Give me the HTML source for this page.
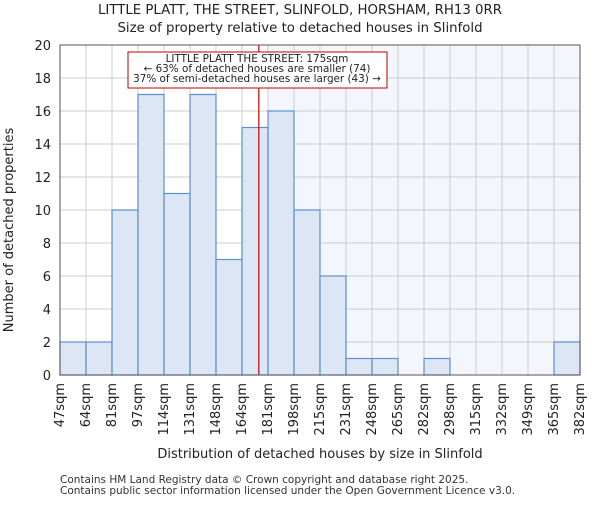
<!DOCTYPE html>
<html><head><meta charset="utf-8"><style>body{margin:0;background:#fff}svg{font-family:"DejaVu Sans","Liberation Sans",sans-serif}</style></head>
<body>
<svg id="c" width="600" height="500"></svg>
<script>
const binLabels=["47sqm","64sqm","81sqm","97sqm","114sqm","131sqm","148sqm","164sqm","181sqm","198sqm","215sqm","231sqm","248sqm","265sqm","282sqm","298sqm","315sqm","332sqm","349sqm","365sqm","382sqm"];
const counts=[2,2,10,17,11,17,7,15,16,10,6,1,1,0,1,0,0,0,0,2];
const yTicks=[0,2,4,6,8,10,12,14,16,18,20];
const propertySize=175;
const shadeFromBin=8;
const L=60,R=580,T=45,B=375,yMax=20;
const n=counts.length,bw=(R-L)/n;
const xs=i=>L+i*bw, ys=v=>B-(B-T)*v/yMax;
const ns="http://www.w3.org/2000/svg",svg=document.getElementById('c');
function mk(t,a,txt){const e=document.createElementNS(ns,t);for(const k in a)e.setAttribute(k,a[k]);if(txt!=null)e.textContent=txt;svg.appendChild(e);return e;}
let e;
e=mk('rect',{x:xs(shadeFromBin),y:T,width:R-xs(shadeFromBin),height:B-T,fill:'#f3f6fd'});


for(let i=0;i<=n;i++){e=mk('line',{x1:xs(i),x2:xs(i),y1:T,y2:B,stroke:'#cccccc'});

}
yTicks.forEach(v=>{e=mk('line',{x1:L,x2:R,y1:ys(v),y2:ys(v),stroke:'#cccccc'});


e=mk('text',{x:L-9,y:ys(v)+5,'text-anchor':'end','font-size':13,fill:'#222'},v);

});
counts.forEach((v,i)=>{if(v<=0)return;e=mk('rect',{x:xs(i),y:ys(v),width:bw,height:B-ys(v),fill:'#dce6f4',stroke:'#5b8fd0','stroke-width':1.2});

});
binLabels.forEach((t,i)=>{const x=xs(i)+4;e=mk('text',{x:x,y:B+8,'text-anchor':'end','font-size':13,fill:'#222',transform:`rotate(-90 ${x} ${B+8})`},t);

});
const lo=164,hi=181,lx=xs(7)+bw*(propertySize-lo)/(hi-lo);
e=mk('line',{x1:lx,x2:lx,y1:T,y2:B,stroke:'#c00000','stroke-width':1.2});


e=mk('rect',{x:128,y:52,width:259,height:36,fill:'#fff',stroke:'#c00000'});


["LITTLE PLATT THE STREET: 175sqm","← 63% of detached houses are smaller (74)","37% of semi-detached houses are larger (43) →"].forEach((t,i)=>{e=mk('text',{x:257,y:62+i*10,'text-anchor':'middle','font-size':10.4,fill:'#222'},t);

});
e=mk('rect',{x:L,y:T,width:R-L,height:B-T,fill:'none',stroke:'#555'});


e=mk('text',{x:300,y:14,'text-anchor':'middle','font-size':13.3,fill:'#222'},"LITTLE PLATT, THE STREET, SLINFOLD, HORSHAM, RH13 0RR");


e=mk('text',{x:300,y:32,'text-anchor':'middle','font-size':13.3,fill:'#222'},"Size of property relative to detached houses in Slinfold");


e=mk('text',{x:320,y:458,'text-anchor':'middle','font-size':13,fill:'#222'},"Distribution of detached houses by size in Slinfold");


e=mk('text',{x:13,y:230,'text-anchor':'middle','font-size':13,fill:'#222',transform:'rotate(-90 13 230)'},"Number of detached properties");


e=mk('text',{x:60,y:483,'font-size':10.5,fill:'#333'},"Contains HM Land Registry data © Crown copyright and database right 2025.");


e=mk('text',{x:60,y:494,'font-size':10.5,fill:'#333'},"Contains public sector information licensed under the Open Government Licence v3.0.");


</script>
</body></html>
